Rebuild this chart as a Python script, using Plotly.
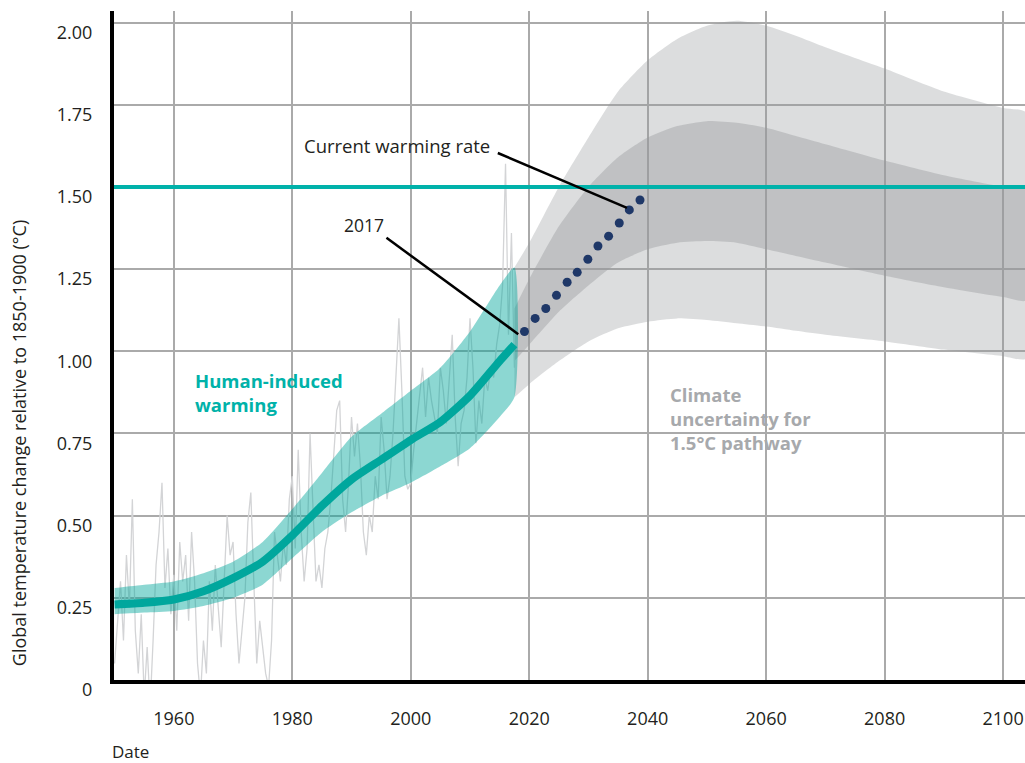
import plotly.graph_objects as go

# ---------------- data ----------------
obs_years = [1950 + 0.5 * i for i in range(136)]
obs_values = [
    0.05, 0.18, 0.30, 0.12, 0.38, 0.22, 0.55, 0.15, 0.02, 0.20,
    -0.05, 0.10, -0.08, 0.12, 0.35, 0.45, 0.60, 0.28, 0.40, 0.20,
    0.32, 0.15, 0.42, 0.30, 0.38, 0.18, 0.45, 0.30, 0.05, -0.05,
    0.12, 0.02, 0.30, 0.15, 0.35, 0.22, 0.10, 0.30, 0.50, 0.38,
    0.42, 0.20, 0.05, 0.15, 0.25, 0.48, 0.57, 0.30, 0.05, 0.18,
    0.10, 0.02, -0.02, 0.12, 0.45, 0.38, 0.30, 0.42, 0.35, 0.55,
    0.62, 0.40, 0.70, 0.45, 0.30, 0.40, 0.75, 0.52, 0.30, 0.35,
    0.28, 0.40, 0.45, 0.55, 0.70, 0.82, 0.85, 0.55, 0.45, 0.60,
    0.80, 0.68, 0.78, 0.65, 0.45, 0.38, 0.50, 0.45, 0.62, 0.55,
    0.80, 0.70, 0.55, 0.62, 0.75, 0.92, 1.10, 0.88, 0.62, 0.58,
    0.60, 0.70, 0.78, 0.85, 0.95, 0.80, 0.92, 0.85, 0.80, 0.75,
    0.95, 0.88, 0.78, 0.90, 1.05, 0.80, 0.65, 0.78, 0.82, 0.92,
    1.10, 0.95, 0.72, 0.85, 0.78, 0.92, 0.88, 0.95, 0.92, 1.02,
    1.08, 1.20, 1.57, 1.05, 1.36, 0.95,
]

human_years = [1950, 1955, 1960, 1965, 1970, 1975, 1980, 1985, 1990, 1995,
               2000, 2005, 2010, 2015, 2017.5]
human_mid = [0.23, 0.235, 0.245, 0.27, 0.31, 0.36, 0.44, 0.53, 0.61, 0.67,
             0.73, 0.785, 0.865, 0.97, 1.02]
human_hi = [0.28, 0.29, 0.30, 0.325, 0.36, 0.42, 0.52, 0.63, 0.74, 0.81,
            0.88, 0.95, 1.06, 1.20, 1.255]
human_lo = [0.20, 0.205, 0.21, 0.225, 0.25, 0.29, 0.37, 0.45, 0.51, 0.56,
            0.60, 0.65, 0.705, 0.80, 0.86]

future_years = [2017.5, 2020, 2025, 2030, 2035, 2040, 2045, 2050, 2055, 2060,
                2065, 2070, 2080, 2090, 2100, 2104]
outer_hi = [1.255, 1.33, 1.50, 1.65, 1.79, 1.885, 1.95, 1.99, 2.005, 1.99,
            1.96, 1.925, 1.86, 1.79, 1.74, 1.725]
outer_lo = [0.86, 0.90, 0.97, 1.03, 1.07, 1.09, 1.10, 1.095, 1.085, 1.075,
            1.062, 1.05, 1.03, 1.005, 0.985, 0.978]
inner_hi = [1.13, 1.22, 1.38, 1.50, 1.59, 1.65, 1.685, 1.70, 1.695, 1.68,
            1.655, 1.63, 1.58, 1.535, 1.50, 1.49]
inner_lo = [0.97, 1.02, 1.12, 1.20, 1.27, 1.31, 1.33, 1.335, 1.33, 1.31,
            1.29, 1.27, 1.23, 1.195, 1.165, 1.155]

rate_years = [2019.2, 2021.0, 2022.8, 2024.6, 2026.4, 2028.1, 2029.9,
              2031.6, 2033.4, 2035.2, 2036.9, 2038.7]
rate_values = [1.06, 1.10, 1.13, 1.17, 1.21, 1.24, 1.28, 1.32, 1.35, 1.39,
               1.43, 1.46]

target_level = 1.5

x_ticks = [1960, 1980, 2000, 2020, 2040, 2060, 2080, 2100]
y_ticks = [0, 0.25, 0.5, 0.75, 1.0, 1.25, 1.5, 1.75, 2.0]
y_ticktext = ["0", "0.25", "0.50", "0.75", "1.00", "1.25", "1.50", "1.75", "2.00"]

# ---------------- styles ----------------
FONT = "Open Sans"
TEAL = "#00A79D"
TEAL_LINE = "#00B2AA"
TEXT = "#231F20"

fig = go.Figure()

# future uncertainty bands (semi-transparent so grid shows through)
fig.add_trace(go.Scatter(
    x=future_years + future_years[::-1], y=outer_hi + outer_lo[::-1],
    fill="toself", fillcolor="rgba(150,152,156,0.33)",
    line=dict(width=0, shape="spline", smoothing=0.6),
    mode="lines", hoverinfo="skip", showlegend=False))
fig.add_trace(go.Scatter(
    x=future_years + future_years[::-1], y=inner_hi + inner_lo[::-1],
    fill="toself", fillcolor="rgba(150,152,156,0.40)",
    line=dict(width=0, shape="spline", smoothing=0.6),
    mode="lines", hoverinfo="skip", showlegend=False))

# observed noisy series
fig.add_trace(go.Scatter(
    x=obs_years, y=obs_values, mode="lines",
    line=dict(color="#D3D4D6", width=1.3),
    hoverinfo="skip", showlegend=False))

# human-induced band
fig.add_trace(go.Scatter(
    x=human_years + human_years[::-1], y=human_hi + human_lo[::-1],
    fill="toself", fillcolor="rgba(0,166,156,0.45)",
    line=dict(width=0, shape="spline", smoothing=0.6),
    mode="lines", hoverinfo="skip", showlegend=False))
fig.add_trace(go.Scatter(
    x=human_years, y=human_mid, mode="lines",
    line=dict(color=TEAL, width=8, shape="spline", smoothing=0.6),
    hoverinfo="skip", showlegend=False))

# current warming rate dots
fig.add_trace(go.Scatter(
    x=rate_years, y=rate_values, mode="markers",
    marker=dict(color="#1F3868", size=9),
    hoverinfo="skip", showlegend=False))

# 1.5 line
fig.add_shape(type="line", xref="paper", x0=0, x1=1, yref="y",
              y0=target_level, y1=target_level,
              line=dict(color=TEAL_LINE, width=4), layer="above")

# leader lines
fig.add_shape(type="line", xref="x", yref="y", x0=2014.7, y0=1.603,
              x1=2036.5, y1=1.436, line=dict(color="black", width=2.5))
fig.add_shape(type="line", xref="x", yref="y", x0=1995.9, y0=1.345,
              x1=2018.15, y1=1.052, line=dict(color="black", width=2.5))

# annotations
fig.add_annotation(x=1997.66, y=1.627, text="Current warming rate",
                   showarrow=False, xanchor="center", yanchor="middle",
                   font=dict(family=FONT, size=18.5, color=TEXT))
fig.add_annotation(x=1992.1, y=1.384, text="2017",
                   showarrow=False, xanchor="center", yanchor="middle",
                   font=dict(family=FONT, size=17.5, color=TEXT))
fig.add_annotation(x=1963.2, y=0.874, text="<b>Human-induced<br>warming</b>",
                   showarrow=False, xanchor="left", yanchor="middle", align="left",
                   font=dict(family=FONT, size=18.5, color="#00B2A9"))
fig.add_annotation(x=2043.4, y=0.794,
                   text="<b>Climate<br>uncertainty for<br>1.5°C pathway</b>",
                   showarrow=False, xanchor="left", yanchor="middle", align="left",
                   font=dict(family=FONT, size=18.5, color="#A7A9AC"))

# axis titles as annotations
fig.add_annotation(xref="paper", yref="paper", x=-0.1043, y=0.354,
                   xanchor="center", yanchor="middle",
                   text="Global temperature change relative to 1850-1900 (°C)",
                   textangle=-90, showarrow=False,
                   font=dict(family=FONT, size=18, color=TEXT))
fig.add_annotation(xref="paper", yref="paper", x=-0.0044, y=-0.1076,
                   xanchor="left", yanchor="middle",
                   text="Date", showarrow=False,
                   font=dict(family=FONT, size=17, color=TEXT))

fig.update_layout(
    width=1025, height=763,
    margin=dict(l=114, r=0, t=11, b=83),
    paper_bgcolor="white", plot_bgcolor="white",
    showlegend=False,
    font=dict(family=FONT, size=18, color=TEXT),
    xaxis=dict(range=[1949.9, 2103.7], tickvals=x_ticks,
               showgrid=True, gridcolor="#AAAAAA", gridwidth=1.5,
               showline=True, linecolor="black", linewidth=4,
               zeroline=False, ticks="", ticklabelstandoff=19,
               ticklabeloverflow="allow",
               tickfont=dict(family=FONT, size=18, color=TEXT)),
    yaxis=dict(range=[0, 2.035], tickvals=y_ticks, ticktext=y_ticktext,
               showgrid=True, gridcolor="#AAAAAA", gridwidth=1.5,
               showline=True, linecolor="black", linewidth=4,
               zeroline=False, ticks="", ticklabelstandoff=14,
               ticklabelshift=10,
               tickfont=dict(family=FONT, size=18, color=TEXT)),
)

fig.write_html("out.html",
               config={"displayModeBar": False},
               post_script="document.body.style.margin='0';"
                           "document.body.style.overflow='hidden';")
